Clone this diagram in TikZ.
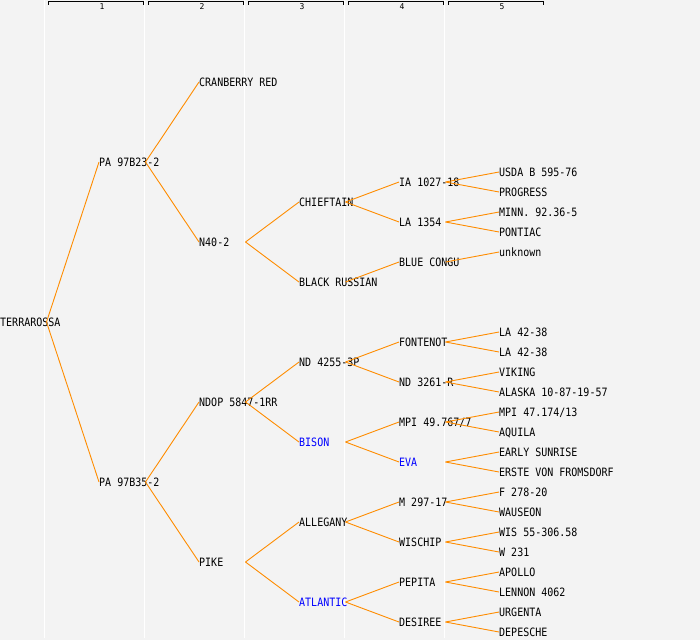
\documentclass[tikz,border=0pt]{standalone}
\usepackage{fontspec}
\setmonofont{DejaVu Sans Mono}
\definecolor{bgc}{HTML}{F3F3F3}
\definecolor{edgec}{HTML}{FF8C00}
\definecolor{bluec}{HTML}{0000FF}
\newcommand{\tall}[1]{\scalebox{1}[1.15]{#1}}
\begin{document}
\begin{tikzpicture}[x=1pt,y=-1pt,
  lbl/.style={anchor=west,inner sep=0pt,font=\ttfamily\fontsize{10}{10}\selectfont,text height=8.4pt,text depth=0pt},
  blu/.style={lbl,text=bluec},
  edge/.style={draw=edgec,line width=0.9pt},
  col/.style={draw=white,line width=1.2pt},
  brk/.style={draw=black,line width=1pt},
  hdr/.style={inner sep=0pt,font=\ttfamily\fontsize{8}{8}\selectfont}]
\fill[bgc] (0,0) rectangle (700,640);
\useasboundingbox (0,0) rectangle (700,640);
% column lines
\foreach \x in {44.5,144.5,244.5,344.5,444.5} \draw[col] (\x,0) -- (\x,638);
% header brackets
\foreach \i/\x in {1/48,2/148,3/248,4/348,5/448} {
  \draw[brk] (\x,4.5) -- (\x,1.5) -- (\x+95,1.5) -- (\x+95,4.5);
  \node[hdr] (h\i) at (\x+54,6.5) {\i};
}
% level 0
\node[lbl] (t) at (0,322) {\tall{TERRAROSSA}};
% level 1
\node[lbl] (p1) at (99,162) {\tall{PA 97B23-2}};
\node[lbl] (p2) at (99,482) {\tall{PA 97B35-2}};
% level 2
\node[lbl] (cr) at (199,82) {\tall{CRANBERRY RED}};
\node[lbl] (n40) at (199,242) {\tall{N40-2}};
\node[lbl] (ndop) at (199,402) {\tall{NDOP 5847-1RR}};
\node[lbl] (pike) at (199,562) {\tall{PIKE}};
% level 3
\node[lbl] (chief) at (299,202) {\tall{CHIEFTAIN}};
\node[lbl] (black) at (299,282) {\tall{BLACK RUSSIAN}};
\node[lbl] (nd42) at (299,362) {\tall{ND 4255-3P}};
\node[blu] (bison) at (299,442) {\tall{BISON}};
\node[lbl] (alleg) at (299,522) {\tall{ALLEGANY}};
\node[blu] (atl) at (299,602) {\tall{ATLANTIC}};
% level 4
\node[lbl] (ia) at (399,182) {\tall{IA 1027-18}};
\node[lbl] (la) at (399,222) {\tall{LA 1354}};
\node[lbl] (bc) at (399,262) {\tall{BLUE CONGU}};
\node[lbl] (font) at (399,342) {\tall{FONTENOT}};
\node[lbl] (nd32) at (399,382) {\tall{ND 3261-R}};
\node[lbl] (mpi) at (399,422) {\tall{MPI 49.767/7}};
\node[blu] (eva) at (399,462) {\tall{EVA}};
\node[lbl] (m297) at (399,502) {\tall{M 297-17}};
\node[lbl] (wis) at (399,542) {\tall{WISCHIP}};
\node[lbl] (pep) at (399,582) {\tall{PEPITA}};
\node[lbl] (des) at (399,622) {\tall{DESIREE}};
% level 5
\node[lbl] (l1) at (499,172) {\tall{USDA B 595-76}};
\node[lbl] (l2) at (499,192) {\tall{PROGRESS}};
\node[lbl] (l3) at (499,212) {\tall{MINN. 92.36-5}};
\node[lbl] (l4) at (499,232) {\tall{PONTIAC}};
\node[lbl] (l5) at (499,252) {\tall{unknown}};
\node[lbl] (l6) at (499,332) {\tall{LA 42-38}};
\node[lbl] (l7) at (499,352) {\tall{LA 42-38}};
\node[lbl] (l8) at (499,372) {\tall{VIKING}};
\node[lbl] (l9) at (499,392) {\tall{ALASKA 10-87-19-57}};
\node[lbl] (l10) at (499,412) {\tall{MPI 47.174/13}};
\node[lbl] (l11) at (499,432) {\tall{AQUILA}};
\node[lbl] (l12) at (499,452) {\tall{EARLY SUNRISE}};
\node[lbl] (l13) at (499,472) {\tall{ERSTE VON FROMSDORF}};
\node[lbl] (l14) at (499,492) {\tall{F 278-20}};
\node[lbl] (l15) at (499,512) {\tall{WAUSEON}};
\node[lbl] (l16) at (499,532) {\tall{WIS 55-306.58}};
\node[lbl] (l17) at (499,552) {\tall{W 231}};
\node[lbl] (l18) at (499,572) {\tall{APOLLO}};
\node[lbl] (l19) at (499,592) {\tall{LENNON 4062}};
\node[lbl] (l20) at (499,612) {\tall{URGENTA}};
\node[lbl] (l21) at (499,632) {\tall{DEPESCHE}};
% edges
\foreach \p/\c in {t/p1,t/p2,p1/cr,p1/n40,p2/ndop,p2/pike,n40/chief,n40/black,
  ndop/nd42,ndop/bison,pike/alleg,pike/atl,chief/ia,chief/la,black/bc,
  nd42/font,nd42/nd32,bison/mpi,bison/eva,alleg/m297,alleg/wis,atl/pep,atl/des,
  ia/l1,ia/l2,la/l3,la/l4,bc/l5,font/l6,font/l7,nd32/l8,nd32/l9,mpi/l10,mpi/l11,
  eva/l12,eva/l13,m297/l14,m297/l15,wis/l16,wis/l17,pep/l18,pep/l19,des/l20,des/l21}
  \draw[edge] ([xshift=46.5pt]\p.west) -- (\c.west);
\end{tikzpicture}
\end{document}
